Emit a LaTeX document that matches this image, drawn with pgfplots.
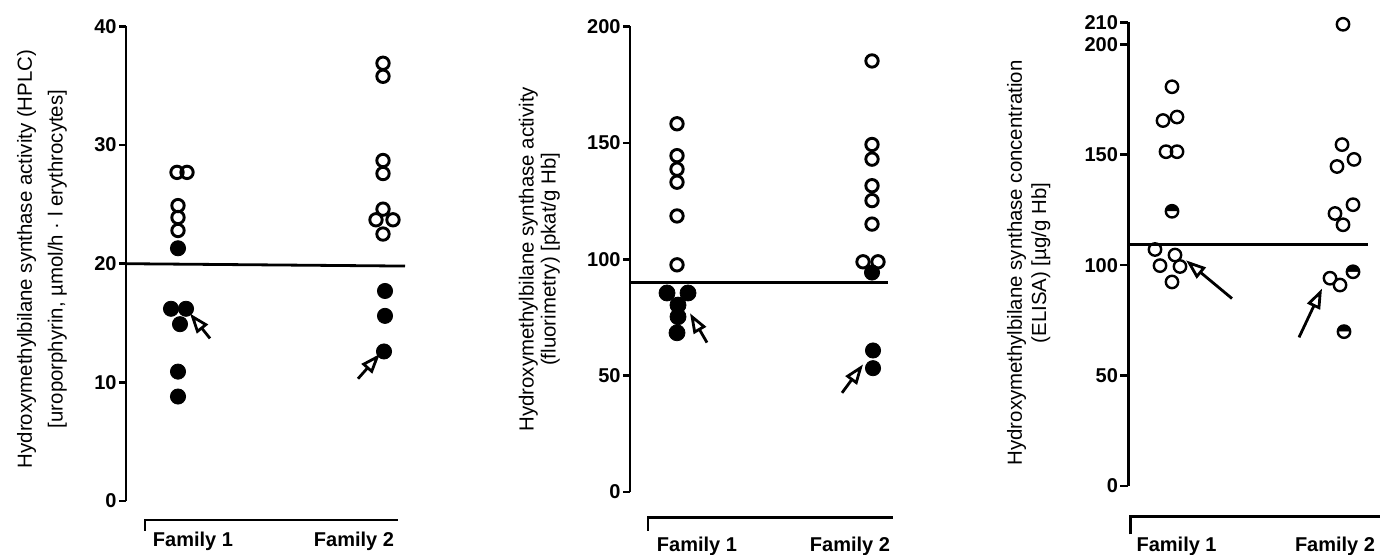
\documentclass[border=0pt]{standalone}
\usepackage{fontspec}
\setmainfont{Liberation Sans}
\usepackage{pgfplots}
\pgfplotsset{compat=1.18}
\usetikzlibrary{arrows.meta}

\pgfplotsset{
  panel/.style={scale only axis, anchor=south west, hide x axis, axis y line*=left,
    clip=false, ymin=0, tick align=outside, major tick length=3.5pt,
    y axis line style={line width=1.4pt},
    ytick style={line width=1.3pt, black},
    /pgf/number format/assume math mode=true,
    yticklabel style={font=\fontsize{10}{11}\selectfont\bfseries, inner sep=1pt},
    ylabel style={align=center, anchor=center},
  },
  open/.style={only marks, mark=o, mark size=3.1pt, mark options={line width=1.45pt, black}},
  filled/.style={only marks, mark=*, mark size=3.8pt, mark options={black, fill=black}},
  half/.style={only marks, mark=halfcircle*, mark size=3.1pt, mark options={line width=1.45pt, black, fill=white, rotate=-90}},
  refline/.style={black, line width=1.4pt, no marks},
}
\tikzset{arr/.style={black, line width=1.4pt, -{Triangle[open, length=10pt, width=7pt]}}}

\begin{document}
\begin{tikzpicture}
\path[use as bounding box] (0,0) rectangle (690pt,277.5pt);

% ---------------- Panel 1 ----------------
\begin{axis}[panel, at={(63pt,27.05pt)}, width=139.5pt, height=237.2pt,
  xmin=126, xmax=405, ymax=40, ytick={0,10,20,30,40},
  ylabel={Hydroxymethylbilane synthase activity (HPLC)\\{[uroporphyrin, µmol/h · l erythrocytes]}},
  ylabel style={font=\fontsize{10.2}{15.3}\selectfont, at={(axis description cs:-0.301,0.51)}}]
\addplot[refline] coordinates {(126,20) (405,19.8)};
\addplot[open] coordinates {(177,27.7) (187,27.7) (178,24.9) (178,23.9) (178,22.8)};
\addplot[filled] coordinates {(178,21.3) (171,16.2) (186,16.2) (180,14.9) (178,10.9) (178,8.8)};
\addplot[open] coordinates {(383,36.9) (383,35.8) (383,28.7) (383,27.6) (383,24.6) (376,23.7) (393,23.7) (383,22.5)};
\addplot[filled] coordinates {(385,17.7) (385,15.6) (384,12.6)};
\draw[arr] (axis cs:210,13.7) -- (axis cs:190,15.8);
\draw[arr] (axis cs:358,10.3) -- (axis cs:380,12.4);
\end{axis}

% ---------------- Panel 2 ----------------
\begin{axis}[panel, at={(315pt,31.5pt)}, width=129pt, height=232.75pt,
  xmin=630, xmax=888, ymax=200, ytick={0,50,100,150,200},
  ylabel={Hydroxymethylbilane synthase activity\\(fluorimetry) [pkat/g Hb]},
  ylabel style={font=\fontsize{10.2}{11}\selectfont, at={(axis description cs:-0.351,0.50)}}]
\addplot[refline] coordinates {(630,90) (888,90)};
\addplot[open] coordinates {(677,158.2) (677,144.5) (677,138.7) (677,133.1) (677,118.6)};
\addplot[half] coordinates {(677,97.6)};
\addplot[filled, mark size=4pt] coordinates {(667,85.5) (688,85.5) (678,80.3) (678,75.3) (677,68.4)};
\addplot[open] coordinates {(872,185.2) (872,149.3) (872,143.0) (872,131.6) (872,125.2) (872,115.1) (863,98.9) (878,98.9)};
\addplot[filled] coordinates {(872,94.3) (873,60.8) (873,53.2)};
\draw[arr] (axis cs:707,64.2) -- (axis cs:690,76.8);
\draw[arr] (axis cs:842,42.6) -- (axis cs:863,54.8);
\end{axis}

% ---------------- Panel 3 ----------------
\begin{axis}[panel, at={(564.15pt,34.5pt)}, width=120pt, height=231.85pt,
  xmin=1128.3, xmax=1368.3, ymax=210, ytick={0,50,100,150,200,210}, major tick length=4pt,
  ylabel={Hydroxymethylbilane synthase concentration\\(ELISA) [µg/g Hb]},
  ylabel style={font=\fontsize{10.2}{12.2}\selectfont, at={(axis description cs:-0.415,0.481)}}]
\addplot[refline] coordinates {(1128.3,109.5) (1368.3,109.5)};
\addplot[open, mark options={line width=1.2pt}] coordinates {(1172,180.8) (1163,165.5) (1177,167.1) (1166,151.4) (1177,151.4) (1155,107.1) (1175,104.6) (1180,99.4) (1160,99.8) (1172,92.4)};
\addplot[half, mark options={line width=1.2pt}] coordinates {(1172,124.4)};
\addplot[open, mark options={line width=1.2pt}] coordinates {(1343,209.1) (1342,154.6) (1354,147.9) (1337,144.7) (1353,127.4) (1335,123.4) (1343,118.3) (1330,94.1) (1340,91.0)};
\addplot[half, mark options={line width=1.2pt}] coordinates {(1353,97.0) (1344,69.9)};
\draw[arr] (axis cs:1232,84.9) -- (axis cs:1186,102.2);
\draw[arr] (axis cs:1299,67.3) -- (axis cs:1322,89.4);
\end{axis}

% ---------------- Family brackets and labels ----------------
\begin{scope}[line width=1.3pt]
\draw (72.5pt,12pt) -- (72.5pt,17.5pt) -- (199pt,17.5pt);
\draw (324pt,12pt) -- (324pt,18.75pt) -- (446.5pt,18.75pt);
\draw (565.3pt,10.25pt) -- (565.3pt,19.1pt) -- (690pt,19.1pt);
\end{scope}
\begin{scope}[every node/.style={font=\fontsize{10}{12}\selectfont\bfseries, anchor=base, inner sep=0pt}]
\node at (96.5pt,4pt) {Family 1};
\node at (177pt,4pt) {Family 2};
\node at (348.5pt,1.5pt) {Family 1};
\node at (425pt,1.5pt) {Family 2};
\node at (588.3pt,1.5pt) {Family 1};
\node at (667.5pt,1.5pt) {Family 2};
\end{scope}
\end{tikzpicture}
\end{document}
